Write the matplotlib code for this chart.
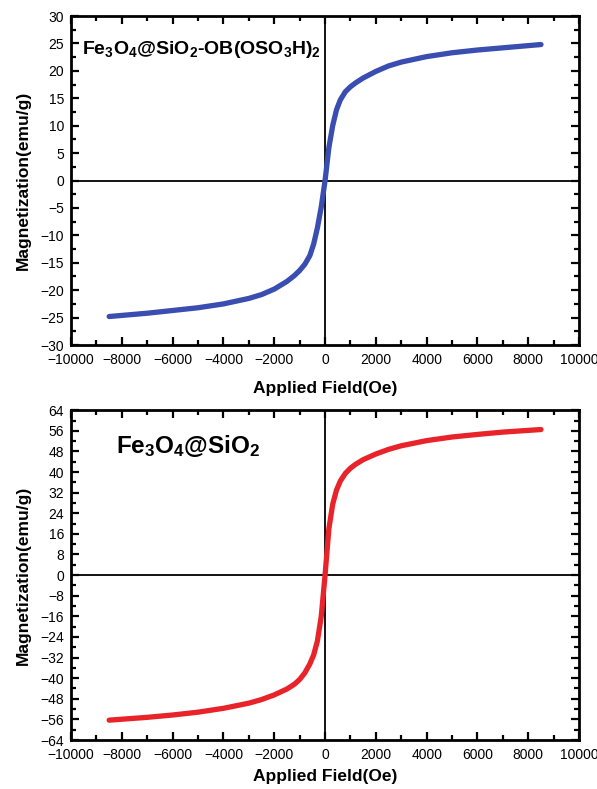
import numpy as np
import matplotlib.pyplot as plt
from matplotlib.ticker import MultipleLocator

plt.rcParams['font.family'] = ['Liberation Sans', 'DejaVu Sans']
plt.rcParams['mathtext.default'] = 'regular'

# applied field (Oe), same grid for both samples
field = [-8500, -7000, -6000, -5000, -4000, -3000, -2500, -2000, -1500, -1200,
         -1000, -800, -600, -450, -300, -150, 0, 150, 300, 450, 600, 800, 1000,
         1200, 1500, 2000, 2500, 3000, 4000, 5000, 6000, 7000, 8500]

# Fe3O4@SiO2-OB(OSO3H)2 magnetization (emu/g)
m_func = [-24.8, -24.2, -23.7, -23.2, -22.5, -21.5, -20.8, -19.8, -18.4, -17.3,
          -16.4, -15.3, -13.7, -11.6, -8.6, -4.8, 0.0, 6.0, 10.0, 12.9, 14.7, 16.2,
          17.1, 17.8, 18.7, 19.9, 20.9, 21.6, 22.6, 23.3, 23.8, 24.2, 24.8]

# Fe3O4@SiO2 magnetization (emu/g)
m_core = [-56.3, -55.2, -54.3, -53.2, -51.7, -49.7, -48.3, -46.5, -44.2, -42.3,
          -40.5, -38.0, -34.5, -31.0, -25.5, -16.0, 0.0, 18.0, 27.5, 33.0, 36.5,
          39.5, 41.5, 43.0, 44.8, 47.0, 48.8, 50.2, 52.2, 53.6, 54.6, 55.5, 56.5]


def style_axes(ax, ymax, ymajor, xpad):
    ax.set_xlim(-10000, 10000)
    ax.set_ylim(-ymax, ymax)
    ax.xaxis.set_major_locator(MultipleLocator(2000))
    ax.xaxis.set_minor_locator(MultipleLocator(1000))
    ax.yaxis.set_major_locator(MultipleLocator(ymajor))
    ax.yaxis.set_minor_locator(MultipleLocator(ymajor / 2))
    ax.tick_params(which='both', direction='in', top=True, right=True,
                   labelsize=10, width=1.6)
    ax.tick_params(axis='x', which='both', pad=6)
    ax.tick_params(axis='y', which='both', pad=5)
    ax.tick_params(which='major', length=6)
    ax.tick_params(which='minor', length=3.5)
    for s in ax.spines.values():
        s.set_linewidth(2)
    ax.axhline(0, color='black', linewidth=1.3, zorder=1)
    ax.axvline(0, color='black', linewidth=1.3, zorder=1)
    ax.set_xlabel('Applied Field(Oe)', fontsize=12.5, fontweight='bold', labelpad=xpad)
    ax.set_ylabel('Magnetization(emu/g)', fontsize=12.5, fontweight='bold', labelpad=7)


fig = plt.figure(figsize=(5.97, 7.89), dpi=100)

ax1 = fig.add_axes([0.119, 0.5627, 0.851, 0.417])
ax1.plot(field, m_func, color='#3a4db0', linewidth=3.8, solid_capstyle='round',
         solid_joinstyle='round', zorder=3)
style_axes(ax1, 30, 5, 10)
ax1.text(0.022, 0.897, r'Fe$_3$O$_4$@SiO$_2$-OB(OSO$_3$H)$_2$', transform=ax1.transAxes,
         fontsize=14, fontweight='bold', va='center', ha='left')

ax2 = fig.add_axes([0.119, 0.0621, 0.851, 0.418])
ax2.plot(field, m_core, color='#e8232a', linewidth=3.8, solid_capstyle='round',
         solid_joinstyle='round', zorder=3)
style_axes(ax2, 64, 8, 5)
ax2.text(0.088, 0.89, r'Fe$_3$O$_4$@SiO$_2$', transform=ax2.transAxes,
         fontsize=17.5, fontweight='bold', va='center', ha='left')

fig.savefig('out.png', dpi=100)
